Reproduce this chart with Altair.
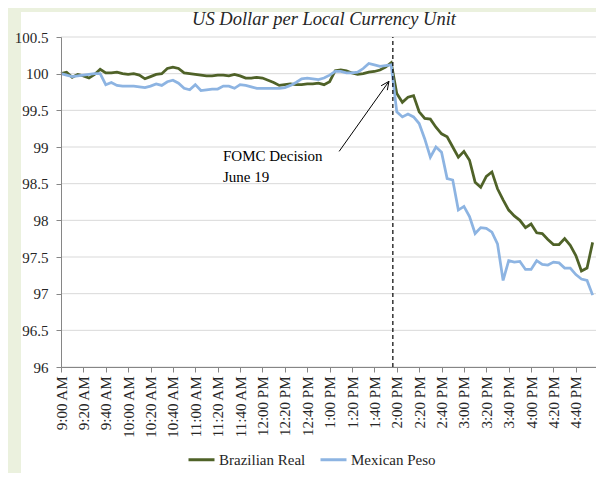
import json
import altair as alt
import pandas as pd

tick_labels = ["9:00 AM", "9:20 AM", "9:40 AM", "10:00 AM", "10:20 AM", "10:40 AM",
               "11:00 AM", "11:20 AM", "11:40 AM", "12:00 PM", "12:20 PM", "12:40 PM",
               "1:00 PM", "1:20 PM", "1:40 PM", "2:00 PM", "2:20 PM", "2:40 PM",
               "3:00 PM", "3:20 PM", "3:40 PM", "4:00 PM", "4:20 PM", "4:40 PM"]

brazilian_real = [
    100.00, 100.02, 99.95, 99.99, 99.97, 99.94, 99.99, 100.06, 100.01, 100.01,
    100.02, 100.00, 99.99, 100.00, 99.98, 99.93, 99.96, 99.99, 100.00, 100.07,
    100.09, 100.07, 100.01, 100.00, 99.99, 99.98, 99.97, 99.97, 99.98, 99.98,
    99.97, 99.99, 99.97, 99.94, 99.94, 99.95, 99.94, 99.91, 99.88, 99.84,
    99.85, 99.86, 99.85, 99.85, 99.86, 99.86, 99.87, 99.85, 99.89, 100.04,
    100.05, 100.04, 100.01, 99.99, 100.00, 100.02, 100.03, 100.05, 100.09, 100.15,
    99.73, 99.61, 99.68, 99.70, 99.48, 99.39, 99.38, 99.27, 99.18, 99.14,
    99.00, 98.86, 98.94, 98.82, 98.52, 98.45, 98.60, 98.66, 98.43, 98.28,
    98.14, 98.06, 98.00, 97.90, 97.95, 97.83, 97.82, 97.74, 97.67, 97.67,
    97.75, 97.66, 97.52, 97.31, 97.35, 97.70]

mexican_peso = [
    100.00, 99.98, 99.96, 99.97, 99.98, 99.99, 100.00, 100.00, 99.85, 99.88,
    99.84, 99.83, 99.83, 99.83, 99.82, 99.81, 99.83, 99.86, 99.84, 99.89,
    99.91, 99.87, 99.80, 99.78, 99.85, 99.77, 99.78, 99.79, 99.79, 99.83,
    99.83, 99.80, 99.85, 99.84, 99.82, 99.80, 99.80, 99.80, 99.80, 99.80,
    99.81, 99.84, 99.88, 99.93, 99.94, 99.93, 99.92, 99.94, 99.98, 100.03,
    100.03, 100.01, 100.01, 100.02, 100.07, 100.14, 100.12, 100.10, 100.11, 100.12,
    99.48, 99.41, 99.45, 99.41, 99.32, 99.11, 98.86, 99.00, 98.93, 98.57,
    98.55, 98.14, 98.19, 98.05, 97.82, 97.90, 97.89, 97.84, 97.68, 97.18,
    97.45, 97.43, 97.44, 97.33, 97.33, 97.45, 97.40, 97.39, 97.43, 97.42,
    97.35, 97.35, 97.26, 97.20, 97.18, 96.98]

series_names = ["Brazilian Real", "Mexican Peso"]
series_colors = ["#4F6228", "#8DB4E2"]
y_ticks = [96, 96.5, 97, 97.5, 98, 98.5, 99, 99.5, 100, 100.5]

chart_title = "US Dollar per Local Currency Unit"

# annotation anchors (x in 5-minute steps from 9:00 AM)
fomc_step = 59.3
annotation_text = ["FOMC Decision", "June 19"]
arrow_start = (49.7, 98.94)
arrow_tip = (58.6, 99.895)
arrow_wings = [(57.2, 99.835), (58.31, 99.775)]

W, H = 535, 330
FONT = "Liberation Serif"
TXT = "#262626"

rows = []
for name, vals in zip(series_names, [brazilian_real, mexican_peso]):
    for i, v in enumerate(vals):
        rows.append({"k": i, "value": v, "series": name})
df = pd.DataFrame(rows)

x_scale = alt.Scale(domain=[0, 95.6], nice=False, zero=False)
y_scale = alt.Scale(domain=[96, 100.5], nice=False, zero=False)

label_expr = json.dumps(tick_labels) + "[round(datum.value / 4)]"

x_axis = alt.Axis(values=list(range(0, 96, 4)), labelExpr=label_expr, labelAngle=270,
                  title=None, grid=False, domainColor="#868686", tickColor="#868686",
                  tickSize=5, labelFont=FONT, labelFontSize=15, labelColor=TXT,
                  labelPadding=4, labelOverlap=False, labelFlush=False, zindex=1)
y_axis = alt.Axis(values=y_ticks, format=".1~f", title=None, grid=False,
                  domainColor="#868686", tickColor="#868686", tickSize=5,
                  labelFont=FONT, labelFontSize=15, labelColor=TXT, labelPadding=8,
                  labelOverlap=False, labelFlush=False, zindex=1)


def X(field):
    return alt.X(field, scale=x_scale, axis=x_axis)


def Y(field):
    return alt.Y(field, scale=y_scale, axis=y_axis)


bg = alt.Chart(pd.DataFrame({"a": [0]})).mark_rect(color="white").encode(
    x=alt.value(-40), x2=alt.value(545), y=alt.value(-25), y2=alt.value(436))

title_mark = alt.Chart(pd.DataFrame({"t": [chart_title]})).mark_text(
    font=FONT, fontSize=18.5, fontStyle="italic", color=TXT, align="center",
    baseline="middle").encode(x=alt.value(263), y=alt.value(-18), text="t:N")

grid = alt.Chart(pd.DataFrame({"g": y_ticks})).mark_rule(color="#D9D9D9", strokeWidth=1).encode(
    y=Y("g:Q"), x=alt.value(0), x2=alt.value(W))

lines = alt.Chart(df).mark_line(strokeWidth=2.75).encode(
    x=X("k:Q"),
    y=Y("value:Q"),
    color=alt.Color("series:N", scale=alt.Scale(domain=series_names, range=series_colors),
                    legend=alt.Legend(orient="none", legendX=126, legendY=408,
                                      direction="horizontal", title=None,
                                      symbolType="stroke", symbolSize=676,
                                      symbolStrokeWidth=3, labelFont=FONT,
                                      labelFontSize=15, labelColor=TXT,
                                      columnPadding=8, labelOffset=3)),
)

vline = alt.Chart(pd.DataFrame({"k": [fomc_step], "y1": [96.0], "y2": [100.5]})).mark_rule(
    color="black", strokeDash=[4, 3], strokeWidth=1.2).encode(
    x=X("k:Q"), y=Y("y1:Q"), y2="y2:Q")

arrow_df = pd.DataFrame({
    "x1": [arrow_start[0], arrow_wings[0][0], arrow_wings[1][0]],
    "y1": [arrow_start[1], arrow_wings[0][1], arrow_wings[1][1]],
    "x2": [arrow_tip[0]] * 3,
    "y2": [arrow_tip[1]] * 3,
})
arrow = alt.Chart(arrow_df).mark_rule(color="black", strokeWidth=1).encode(
    x=X("x1:Q"), x2="x2:Q", y=Y("y1:Q"), y2="y2:Q")

label = alt.Chart(pd.DataFrame({"k": [28.95], "v": [98.975], "t": [annotation_text]})).mark_text(
    align="left", baseline="top", font=FONT, fontSize=15, color="black", lineHeight=21).encode(
    x=X("k:Q"), y=Y("v:Q"), text="t")

chart = alt.layer(bg, title_mark, grid, lines, vline, arrow, label).properties(
    width=W, height=H,
    autosize=alt.AutoSizeParams(type="none"),
    padding={"left": 53, "top": 29, "right": 0, "bottom": 106},
    background="#EBF1DE",
).configure_view(strokeWidth=0).configure_axis(labelOverlap=False).configure_legend(
    labelFont=FONT, labelFontSize=15, labelColor=TXT)

chart.save("out.html", embed_options={"renderer": "svg", "actions": False})
